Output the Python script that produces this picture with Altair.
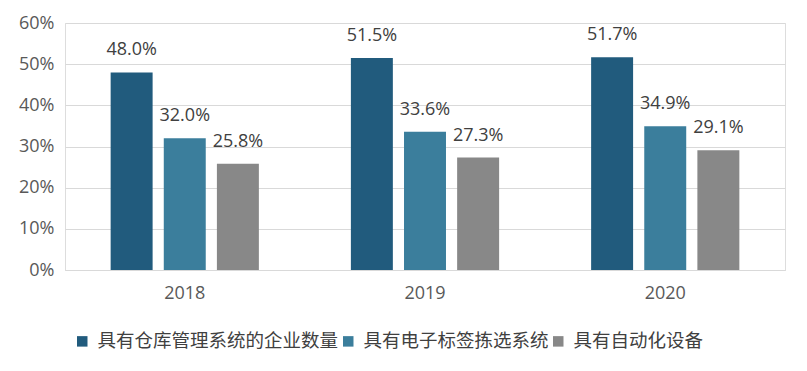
import altair as alt
import pandas as pd

years = ["2018", "2019", "2020"]
series = ["具有仓库管理系统的企业数量", "具有电子标签拣选系统", "具有自动化设备"]
s1 = [0.480, 0.515, 0.517]
s2 = [0.320, 0.336, 0.349]
s3 = [0.258, 0.273, 0.291]
colors = ["#215B7D", "#3B7E9C", "#888888"]

rows = []
for vals, name in zip([s1, s2, s3], series):
    for y, v in zip(years, vals):
        rows.append({"year": y, "series": name, "value": v})
df = pd.DataFrame(rows)

FONT = "Open Sans, Noto Sans CJK SC"

base = alt.Chart(df).encode(
    x=alt.X("year:N", sort=years, title=None,
            scale=alt.Scale(paddingInner=0.383, paddingOuter=0.19),
            axis=alt.Axis(labelAngle=0, labelFontSize=18, labelColor="#595959",
                          labelPadding=14, ticks=False, domainColor="#D9D9D9",
                          labelFont=FONT)),
    xOffset=alt.XOffset("series:N", sort=series,
                        scale=alt.Scale(paddingInner=0.21, paddingOuter=0)),
)

bars = base.mark_bar().encode(
    y=alt.Y("value:Q", title=None,
            scale=alt.Scale(domain=[0, 0.6]),
            axis=alt.Axis(format=".0%", values=[0, 0.1, 0.2, 0.3, 0.4, 0.5, 0.6],
                          labelFontSize=18, labelColor="#595959", labelPadding=11,
                          ticks=False, domain=False, gridColor="#D9D9D9",
                          labelFont=FONT)),
    color=alt.Color("series:N", sort=series,
                    scale=alt.Scale(domain=series, range=colors),
                    legend=alt.Legend(title=None, orient="none", legendX=8, legendY=309,
                                      direction="horizontal", columns=3,
                                      symbolType="square", symbolSize=110,
                                      symbolStrokeWidth=0,
                                      labelFontSize=18.5, labelColor="#404040",
                                      labelFont=FONT, columnPadding=-10,
                                      symbolOffset=0, labelOffset=6, labelLimit=400)),
)

labels = base.mark_text(dy=-17, baseline="alphabetic", align="center",
                        fontSize=18, color="#404040", font=FONT).encode(
    y="value:Q",
    text=alt.Text("value:Q", format=".1%"),
)

chart = alt.layer(bars, labels).properties(
    width=720, height=247,
    autosize=alt.AutoSizeParams(type="none"),
    padding={"left": 57, "top": 15, "right": 14, "bottom": 93},
).configure_view(stroke=None).configure(background="white")

chart.save("out.html", embed_options={"renderer": "svg", "actions": False})
